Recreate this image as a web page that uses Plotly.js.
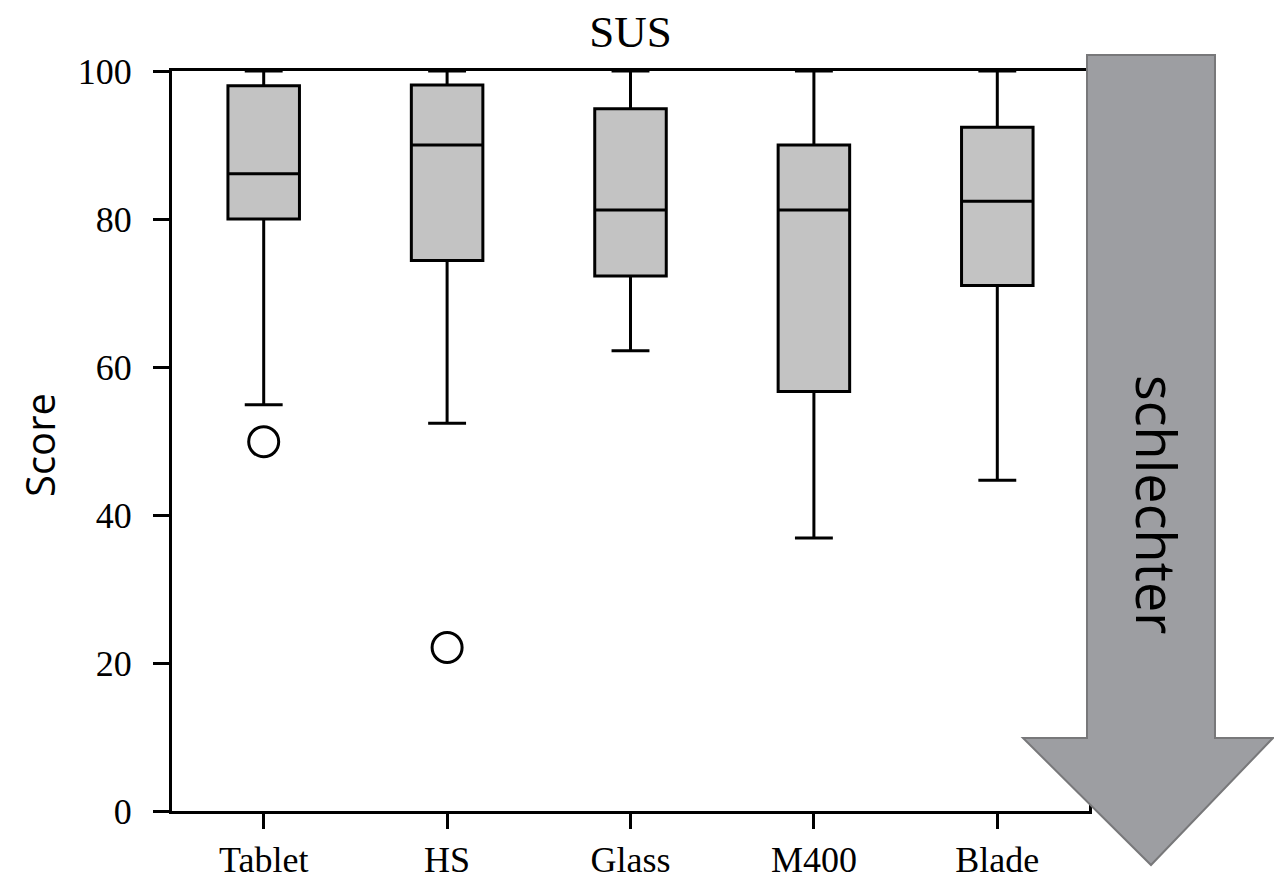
<!DOCTYPE html>
<html>
<head>
<meta charset="utf-8">
<script src="https://cdn.plot.ly/plotly-3.0.1.min.js"></script>
<style>html,body{margin:0;padding:0;background:#fff;}#chart{width:1274px;height:880px;}</style>
</head>
<body>
<div id="chart"></div>
<script>
// ---- data ----
const categories = ['Tablet', 'HS', 'Glass', 'M400', 'Blade'];
const q1Values = [80.0, 74.4, 72.3, 56.7, 71.0];
const medianValues = [86.1, 90.0, 81.2, 81.2, 82.4];
const q3Values = [98.0, 98.1, 94.9, 90.0, 92.4];
const lowerWhiskers = [54.9, 52.4, 62.2, 36.9, 44.7];
const upperWhiskers = [100, 100, 100, 100, 100];
const outlierCategories = ['Tablet', 'HS'];
const outlierValues = [49.9, 22.1];
const yTickValues = [0, 20, 40, 60, 80, 100];
const titleText = 'SUS';
const yTitleText = 'Score';
const arrowText = 'schlechter';

// ---- layout geometry (pixels) ----
const W = 1274, H = 880;
const L = 172, R = 1089, T = 71, B = 811;
const pw = R - L, ph = B - T;
const px = x => (x - L) / pw;
const py = y => (B - y) / ph;

const serif = 'Liberation Serif, Times New Roman, serif';
const sans = 'Open Sans, Noto Sans, sans-serif';

const traces = [{
  type: 'box',
  x: categories,
  q1: q1Values,
  median: medianValues,
  q3: q3Values,
  lowerfence: lowerWhiskers,
  upperfence: upperWhiskers,
  boxpoints: false,
  fillcolor: '#c3c3c3',
  line: {color: '#000', width: 3},
  width: 0.39,
  whiskerwidth: 0.53,
  showlegend: false,
  hoverinfo: 'skip'
}, {
  type: 'scatter',
  mode: 'markers',
  x: outlierCategories,
  y: outlierValues,
  marker: {symbol: 'circle-open', size: 30, color: '#000', line: {width: 3, color: '#000'}},
  showlegend: false,
  hoverinfo: 'skip'
}];

const arrowPts = [[1087,55],[1215,55],[1215,738],[1273,738],[1151,865],[1023,738],[1087,738]];
const arrowPath = 'M' + arrowPts.map(p => px(p[0]).toFixed(5) + ',' + py(p[1]).toFixed(5)).join(' L') + ' Z';

const layout = {
  width: W, height: H,
  paper_bgcolor: '#fff', plot_bgcolor: '#fff',
  margin: {l: L, r: W - R, t: T, b: H - B, pad: 0},
  title: {
    text: titleText,
    font: {family: serif, size: 45, color: '#000'},
    x: 0.5, xref: 'paper', xanchor: 'center',
    y: 1 - 31 / H, yref: 'container', yanchor: 'middle'
  },
  xaxis: {
    type: 'category',
    range: [-0.5, 4.5],
    showgrid: false, zeroline: false,
    showline: true, linecolor: '#000', linewidth: 3, mirror: true,
    ticks: 'outside', ticklen: 15, tickwidth: 3, tickcolor: '#000',
    tickfont: {family: serif, size: 36, color: '#000'},
    ticklabelstandoff: 0,
    fixedrange: true
  },
  yaxis: {
    range: [0, 100],
    tickvals: yTickValues,
    showgrid: false, zeroline: false,
    showline: true, linecolor: '#000', linewidth: 3, mirror: true,
    ticks: 'outside', ticklen: 16, tickwidth: 3, tickcolor: '#000',
    tickfont: {family: serif, size: 36, color: '#000'},
    ticklabelstandoff: 14,
    fixedrange: true
  },
  shapes: [{
    type: 'path', xref: 'paper', yref: 'paper', layer: 'above',
    path: arrowPath,
    fillcolor: '#9d9ea2',
    line: {color: '#78787a', width: 2}
  }],
  annotations: [{
    text: yTitleText, xref: 'paper', yref: 'paper',
    x: px(40), y: py(445), xanchor: 'center', yanchor: 'middle',
    textangle: -90, showarrow: false,
    font: {family: sans, size: 40, color: '#000'}
  }, {
    text: arrowText, xref: 'paper', yref: 'paper',
    x: px(1157), y: py(504), xanchor: 'center', yanchor: 'middle',
    textangle: 90, showarrow: false,
    font: {family: sans, size: 54, color: '#000'}
  }]
};

Plotly.newPlot('chart', traces, layout, {staticPlot: true, displayModeBar: false});
</script>
</body>
</html>
